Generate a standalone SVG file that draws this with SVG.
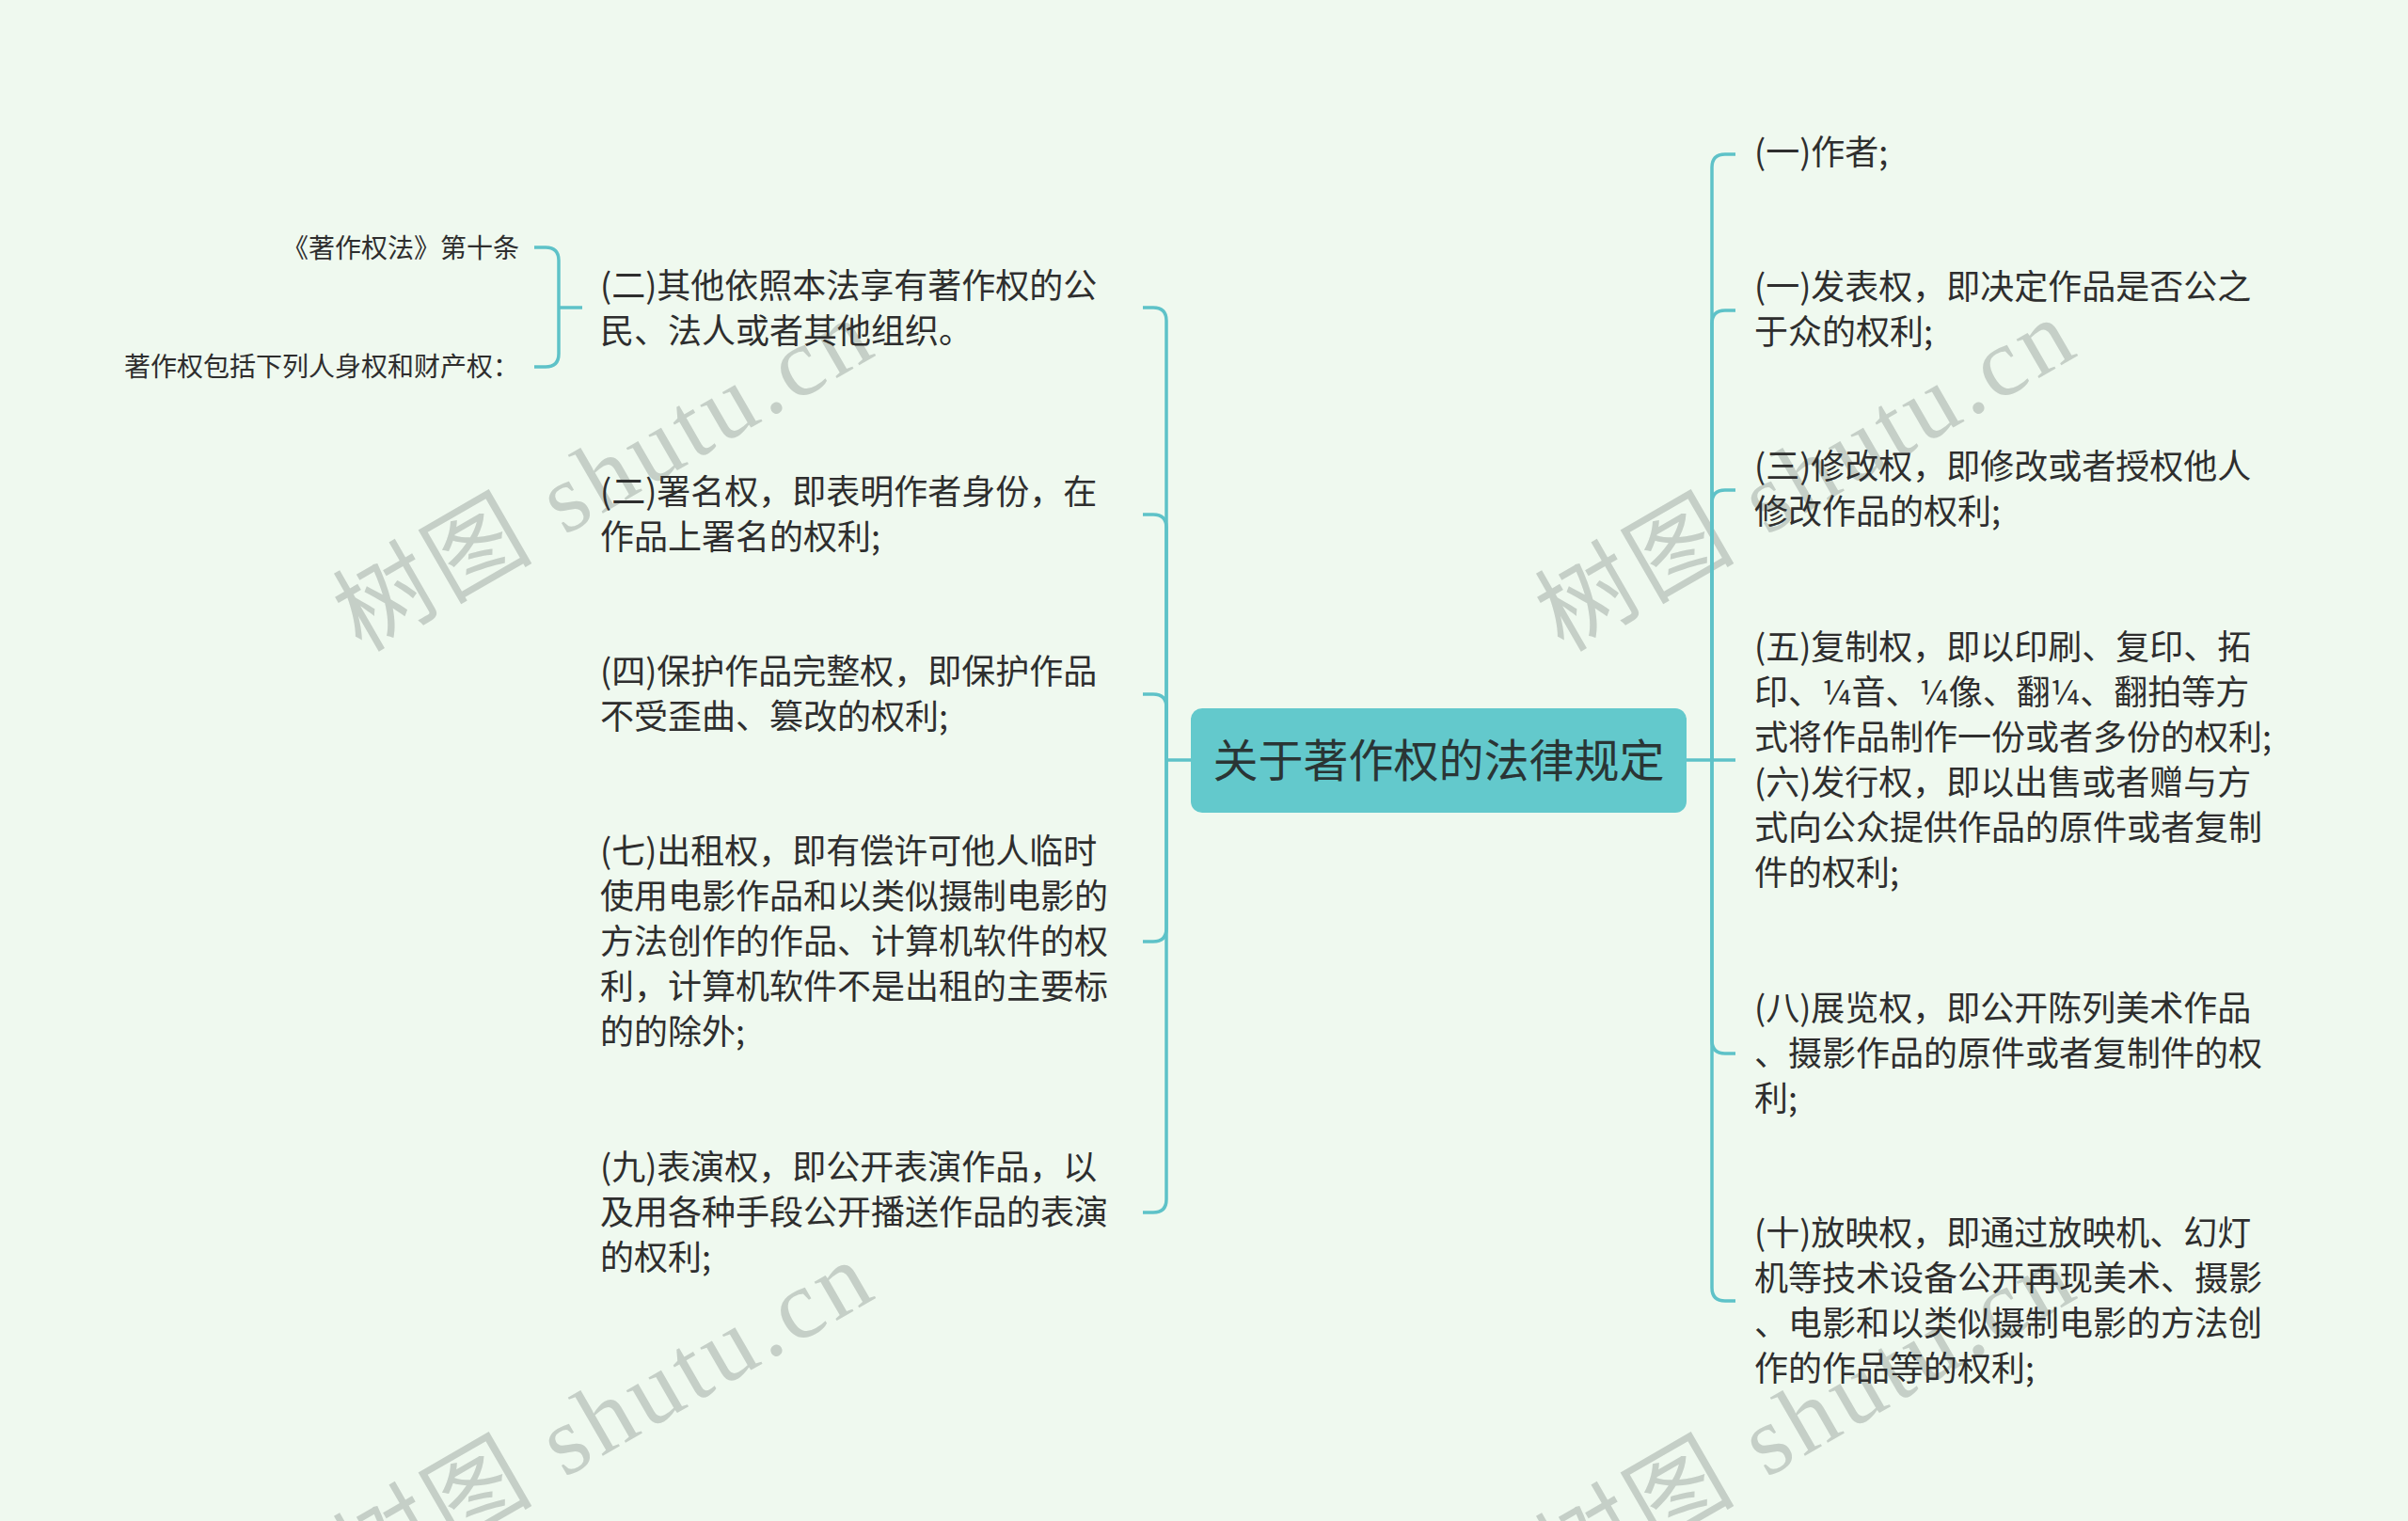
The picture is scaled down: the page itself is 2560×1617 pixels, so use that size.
<svg xmlns="http://www.w3.org/2000/svg" width="2560" height="1617" viewBox="0 0 2560 1617">
<style>
.bg{fill:#eff9ef}
.t{font-family:"Noto Sans CJK SC","Noto Sans",sans-serif;font-size:36px;fill:#2e2e2e}
.s{font-family:"Noto Sans CJK SC","Noto Sans",sans-serif;font-size:28px;fill:#2e2e2e}
.c{font-family:"Noto Sans CJK SC","Noto Sans",sans-serif;font-size:48px;fill:#2a3535}
.ln{fill:none;stroke:#5ec2c8;stroke-width:3.5;stroke-linecap:butt}
.wm{font-family:"Liberation Serif","Noto Sans CJK SC",serif;font-size:104px;letter-spacing:5px;fill:#c5cfc7}
</style>
<rect class="bg" x="0" y="0" width="2560" height="1617"/>
<g id="watermarks">
<text class="wm" transform="translate(384,694) rotate(-30)">树图 shutu.cn</text>
<text class="wm" transform="translate(1662,694) rotate(-30)">树图 shutu.cn</text>
<text class="wm" transform="translate(384,1696) rotate(-30)">树图 shutu.cn</text>
<text class="wm" transform="translate(1662,1696) rotate(-30)">树图 shutu.cn</text>
</g>
<g id="connectors">
<path class="ln" d="M1266,808 H1240"/>
<path class="ln" d="M1240,808 V341 Q1240,327 1226,327 H1215"/>
<path class="ln" d="M1240,808 V561 Q1240,547 1226,547 H1215"/>
<path class="ln" d="M1240,808 V752 Q1240,738 1226,738 H1215"/>
<path class="ln" d="M1240,808 V987 Q1240,1001 1226,1001 H1215"/>
<path class="ln" d="M1240,808 V1275 Q1240,1289 1226,1289 H1215"/>
<path class="ln" d="M1793,808 H1845"/>
<path class="ln" d="M1820,808 V178 Q1820,164 1834,164 H1845"/>
<path class="ln" d="M1820,808 V344 Q1820,330 1834,330 H1845"/>
<path class="ln" d="M1820,808 V535 Q1820,521 1834,521 H1845"/>
<path class="ln" d="M1820,808 V1106 Q1820,1120 1834,1120 H1845"/>
<path class="ln" d="M1820,808 V1369 Q1820,1383 1834,1383 H1845"/>
<path class="ln" d="M619,327 H594"/>
<path class="ln" d="M594,327 V277 Q594,263 580,263 H568"/>
<path class="ln" d="M594,327 V376 Q594,390 580,390 H568"/>
</g>
<g id="root">
<rect x="1266" y="753" width="527" height="111" rx="12" fill="#63c9cc"/>
<text class="c" x="1529.5" y="826" text-anchor="middle">关于著作权的法律规定</text>
</g>
<g id="n-left-1">
<text class="t" x="638" y="317">(二)其他依照本法享有著作权的公</text>
<text class="t" x="638" y="365">民、法人或者其他组织。</text>
</g>
<g id="n-left-1a">
<text class="s" x="552" y="274" text-anchor="end">《著作权法》第十条</text>
</g>
<g id="n-left-1b">
<text class="s" x="552" y="400" text-anchor="end">著作权包括下列人身权和财产权：</text>
</g>
<g id="n-left-2">
<text class="t" x="638" y="536">(二)署名权，即表明作者身份，在</text>
<text class="t" x="638" y="584">作品上署名的权利;</text>
</g>
<g id="n-left-3">
<text class="t" x="638" y="727">(四)保护作品完整权，即保护作品</text>
<text class="t" x="638" y="775">不受歪曲、篡改的权利;</text>
</g>
<g id="n-left-4">
<text class="t" x="638" y="918">(七)出租权，即有偿许可他人临时</text>
<text class="t" x="638" y="966">使用电影作品和以类似摄制电影的</text>
<text class="t" x="638" y="1014">方法创作的作品、计算机软件的权</text>
<text class="t" x="638" y="1062">利，计算机软件不是出租的主要标</text>
<text class="t" x="638" y="1110">的的除外;</text>
</g>
<g id="n-left-5">
<text class="t" x="638" y="1254">(九)表演权，即公开表演作品，以</text>
<text class="t" x="638" y="1302">及用各种手段公开播送作品的表演</text>
<text class="t" x="638" y="1350">的权利;</text>
</g>
<g id="n-right-1">
<text class="t" x="1865" y="175">(一)作者;</text>
</g>
<g id="n-right-2">
<text class="t" x="1865" y="318">(一)发表权，即决定作品是否公之</text>
<text class="t" x="1865" y="366">于众的权利;</text>
</g>
<g id="n-right-3">
<text class="t" x="1865" y="509">(三)修改权，即修改或者授权他人</text>
<text class="t" x="1865" y="557">修改作品的权利;</text>
</g>
<g id="n-right-4">
<text class="t" x="1865" y="701">(五)复制权，即以印刷、复印、拓</text>
<text class="t" x="1865" y="749">印、¼音、¼像、翻¼、翻拍等方</text>
<text class="t" x="1865" y="797">式将作品制作一份或者多份的权利;</text>
<text class="t" x="1865" y="845">(六)发行权，即以出售或者赠与方</text>
<text class="t" x="1865" y="893">式向公众提供作品的原件或者复制</text>
<text class="t" x="1865" y="941">件的权利;</text>
</g>
<g id="n-right-5">
<text class="t" x="1865" y="1085">(八)展览权，即公开陈列美术作品</text>
<text class="t" x="1865" y="1133">、摄影作品的原件或者复制件的权</text>
<text class="t" x="1865" y="1181">利;</text>
</g>
<g id="n-right-6">
<text class="t" x="1865" y="1324">(十)放映权，即通过放映机、幻灯</text>
<text class="t" x="1865" y="1372">机等技术设备公开再现美术、摄影</text>
<text class="t" x="1865" y="1420">、电影和以类似摄制电影的方法创</text>
<text class="t" x="1865" y="1468">作的作品等的权利;</text>
</g>
</svg>
